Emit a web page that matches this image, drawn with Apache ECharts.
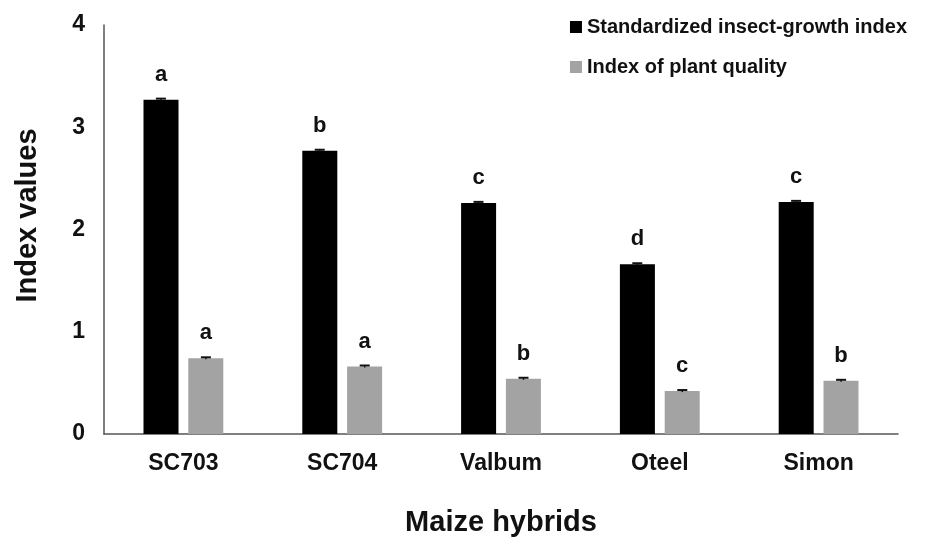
<!DOCTYPE html>
<html>
<head>
<meta charset="utf-8">
<script src="https://cdn.jsdelivr.net/npm/echarts@6/dist/echarts.min.js"></script>
<style>
  html, body { margin: 0; padding: 0; background: #fff; }
  #main { width: 928px; height: 542px; }
</style>
</head>
<body>
<div id="main"></div>
<script>
// maize hybrids
const hybrids = ['SC703', 'SC704', 'Valbum', 'Oteel', 'Simon']
// standardized insect-growth index
const growthIndex = [3.27, 2.77, 2.26, 1.66, 2.27]
const growthErr = [0.01, 0.01, 0.01, 0.01, 0.01]
const growthLetters = ['a', 'b', 'c', 'd', 'c']
// index of plant quality
const qualityIndex = [0.74, 0.66, 0.54, 0.42, 0.52]
const qualityErr = [0.01, 0.01, 0.01, 0.01, 0.01]
const qualityLetters = ['a', 'a', 'b', 'c', 'b']
const yTicks = [0, 1, 2, 3, 4]

const font = 'Liberation Sans, Arial, Helvetica, sans-serif'
const chart = echarts.init(document.getElementById('main'))

// small caps on top of the bars (error bars)
const errorSeries = (values, errs, offset) => ({
  type: 'custom',
  z: 5,
  silent: true,
  data: values.map((v, i) => [i, v, errs[i]]),
  renderItem: (params, api) => {
    const i = api.value(0)
    const hi = api.coord([i, api.value(1) + api.value(2)])
    const lo = api.coord([i, api.value(1) - api.value(2)])
    const x = hi[0] + offset
    return {
      type: 'group',
      children: [
        { type: 'line', shape: { x1: x, y1: hi[1], x2: x, y2: lo[1] }, style: { stroke: '#111', lineWidth: 1.5 } },
        { type: 'line', shape: { x1: x - 5, y1: hi[1], x2: x + 5, y2: hi[1] }, style: { stroke: '#111', lineWidth: 2 } }
      ]
    }
  }
})

const option = {
  animation: false,
  textStyle: { fontFamily: font },
  grid: { left: 104, right: 30, top: 25, bottom: 99 },
  legend: {
    orient: 'vertical',
    right: 16,
    top: 12,
    itemWidth: 12,
    itemHeight: 12,
    itemGap: 20,
    icon: 'rect',
    textStyle: { fontSize: 20, fontWeight: 'bold', color: '#111', fontFamily: font },
    data: ['Standardized insect-growth index', 'Index of plant quality']
  },
  xAxis: {
    type: 'category',
    data: hybrids,
    name: 'Maize hybrids',
    nameLocation: 'middle',
    nameGap: 74,
    nameTextStyle: { fontSize: 29, fontWeight: 'bold', color: '#111', fontFamily: font },
    axisLine: { lineStyle: { color: '#555', width: 1.5 } },
    axisTick: { show: false },
    axisLabel: { fontSize: 23, fontWeight: 'bold', color: '#111', margin: 18, fontFamily: font }
  },
  yAxis: {
    type: 'value',
    min: yTicks[0],
    max: yTicks[yTicks.length - 1],
    interval: 1,
    name: 'Index values',
    nameLocation: 'middle',
    nameGap: 62,
    nameTextStyle: { fontSize: 29, fontWeight: 'bold', color: '#111', fontFamily: font, padding: [0, 0, 0, 28] },
    axisLine: { show: true, lineStyle: { color: '#555', width: 1.5 } },
    axisTick: { show: false },
    splitLine: { show: false },
    axisLabel: { fontSize: 23, fontWeight: 'bold', color: '#111', margin: 19, fontFamily: font }
  },
  series: [
    {
      name: 'Standardized insect-growth index',
      type: 'bar',
      data: growthIndex,
      barWidth: 35,
      barGap: '28%',
      itemStyle: { color: '#000' },
      label: {
        show: true,
        position: 'top',
        distance: 14,
        fontSize: 22,
        fontWeight: 'bold',
        color: '#111',
        fontFamily: font,
        formatter: (p) => growthLetters[p.dataIndex]
      }
    },
    {
      name: 'Index of plant quality',
      type: 'bar',
      data: qualityIndex,
      barWidth: 35,
      itemStyle: { color: '#a3a3a3' },
      label: {
        show: true,
        position: 'top',
        distance: 14,
        fontSize: 22,
        fontWeight: 'bold',
        color: '#111',
        fontFamily: font,
        formatter: (p) => qualityLetters[p.dataIndex]
      }
    },
    errorSeries(growthIndex, growthErr, -22.5),
    errorSeries(qualityIndex, qualityErr, 22.5)
  ]
}
chart.setOption(option)
</script>
</body>
</html>
